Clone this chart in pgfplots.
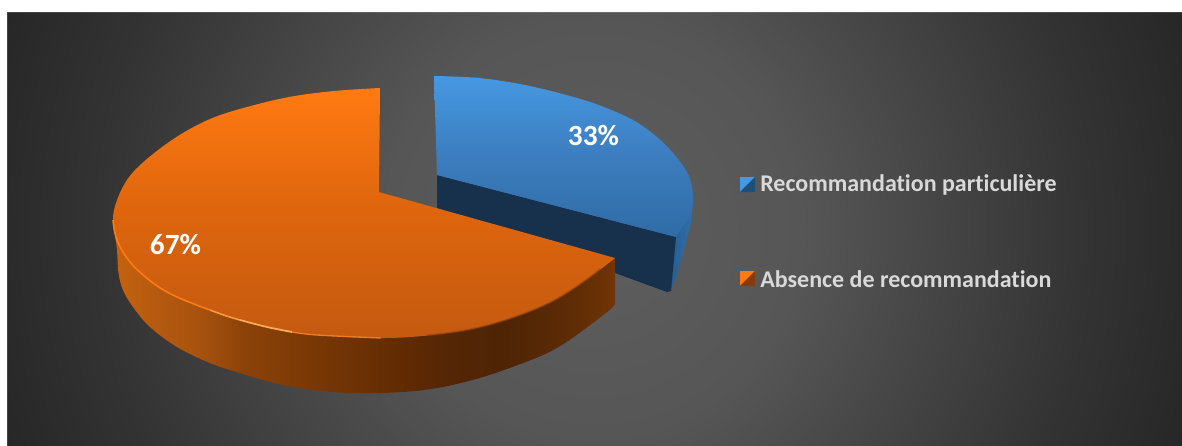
\documentclass[border=0pt]{standalone}
\usepackage{fontspec}
\setmainfont{Carlito}[Ligatures=NoCommon]
\usepackage{pgfplots}
\pgfplotsset{compat=1.18}

\definecolor{legtext}{HTML}{D9D9D9}
\definecolor{cutface}{HTML}{17304B}
\definecolor{blueL}{HTML}{4698E2}
\definecolor{blueD}{HTML}{1F4E79}
\definecolor{orangeL}{HTML}{FF7A12}
\definecolor{orangeD}{HTML}{843C0C}
\definecolor{bg0}{HTML}{5E5E5E}
\definecolor{bg1}{HTML}{565656}
\definecolor{bg2}{HTML}{333333}
\definecolor{bg3}{HTML}{272727}
\definecolor{ot0}{HTML}{C45A10}
\definecolor{ot1}{HTML}{E0660D}
\definecolor{os0}{HTML}{C46210}
\definecolor{os1}{HTML}{A5510E}
\definecolor{os2}{HTML}{8C4208}
\definecolor{os3}{HTML}{632C03}
\definecolor{os4}{HTML}{552605}
\definecolor{os5}{HTML}{4E2405}
\definecolor{os6}{HTML}{5F2C05}
\definecolor{os7}{HTML}{713506}
\definecolor{bt0}{HTML}{2F6CA6}
\definecolor{bt1}{HTML}{3C7DBE}
\definecolor{bs0}{HTML}{245482}
\definecolor{bs1}{HTML}{3070AC}
\definecolor{rim1}{HTML}{F59A40}
\definecolor{rim2}{HTML}{FFAA5A}
\definecolor{rim3}{HTML}{EC7C28}

% the middle 25bp..75bp of a shading is what covers the path's box
\pgfdeclareradialshading{backdrop}{\pgfpoint{0bp}{0bp}}{%
  color(0bp)=(bg0); color(8bp)=(bg1); color(19bp)=(bg2); color(24bp)=(bg3); color(50bp)=(bg3)}
\pgfdeclareverticalshading{orangetop}{100bp}{%
  color(0bp)=(ot0); color(25bp)=(ot0); color(52bp)=(ot1); color(75bp)=(orangeL); color(100bp)=(orangeL)}
\pgfdeclarehorizontalshading{orangeside}{100bp}{%
  color(0bp)=(os0); color(25bp)=(os0); color(34bp)=(os1); color(38bp)=(os2); color(53bp)=(os3);
  color(58bp)=(os4); color(64bp)=(os5); color(71bp)=(os6); color(75bp)=(os7); color(100bp)=(os7)}
\pgfdeclareverticalshading{bluetop}{100bp}{%
  color(0bp)=(bt0); color(25bp)=(bt0); color(50bp)=(bt1); color(75bp)=(blueL); color(100bp)=(blueL)}
\pgfdeclarehorizontalshading{blueside}{100bp}{%
  color(0bp)=(bs0); color(25bp)=(bs0); color(75bp)=(bs1); color(100bp)=(bs1)}

\begin{document}
\begin{tikzpicture}
\useasboundingbox (0,0) rectangle (886.5pt,334.5pt);
\begin{axis}[
  at={(0,0)}, anchor=south west,
  scale only axis, width=886.5pt, height=334.5pt,
  xmin=0, xmax=1182, ymin=0, ymax=446, y dir=reverse,
  hide axis, smooth, tension=0.6,
]
% backdrop, a circular gradient on a large square cut by the axis
\addplot[sharp plot, draw=none, shading=backdrop] coordinates {(-56,-421) (1244,-421) (1244,879) (-56,879) (-56,-421)};
\addplot[sharp plot, draw=none, fill=white] coordinates {(0,0) (1182,0) (1182,12) (0,12) (0,0)};
\addplot[sharp plot, draw=none, fill=white] coordinates {(0,0) (7,0) (7,446) (0,446) (0,0)};

% blue slice
\addplot[draw=none, shading=blueside] coordinates {(692.5,200) (692,213) (690,227) (683,253) (675,280) (669,292)}
  -- (axis cs:660,250) -- (axis cs:660,200) -- cycle;
\addplot[sharp plot, draw=none, fill=cutface] coordinates {(437,175) (676,237) (671,291) (667,292) (437,208) (437,175)};
\addplot[draw=none, shading=bluetop] coordinates {
  (434,76) (479,78) (525,85) (570,96) (600,105.5) (633,120) (657,137) (673,153) (687,172)
  (692.5,190) (692,210) (685,223) (676,237)}
  -- (axis cs:437,175) -- cycle;

% orange slice
\addplot[draw=none, shading=orangeside] coordinates {
  (113.5,222) (115,235) (117,250) (118.5,273) (123,290) (133,307) (150,327) (177,347) (210,363) (240,373) (283,385)
  (333,392) (381,393) (427.6,389.5) (472.7,380) (515,366) (553.3,350) (586.3,328) (612,308)}
  -- (axis cs:615,304) -- (axis cs:615,258) -- (axis cs:400,250) -- cycle;
\addplot[draw=none, shading=orangetop] coordinates {
  (380,88) (334,91) (289,97) (247,107) (215,117) (188,130) (162,147) (138,167) (125,183) (116,203)
  (113,220) (117,240) (130,262) (153,283) (177,297) (210,310) (240,320) (267,327) (317,335)
  (381,338) (427.6,335.5) (472.7,329) (515,317) (553.3,301) (586.3,280) (615,258)}
  -- (axis cs:379,192) -- cycle;
% rim light and edge shadow
\addplot[line width=1.2pt, color=orangeL] coordinates {(113,220) (117,240) (130,262) (153,283) (177,297) (210,310)};
\addplot[line width=1.2pt, color=rim1] coordinates {(210,310) (225,315.5) (240,320)};
\addplot[line width=1.3pt, color=rim2] coordinates {(240,320) (267,327) (292,332)};
\addplot[line width=1pt, color=rim3] coordinates {(292,332) (317,335) (381,338)};
\addplot[line width=1.4pt, color=orangeD, opacity=0.5] coordinates {(427.6,335.5) (472.7,329) (515,317) (553.3,301) (586.3,280) (600.5,269)};

% legend
\addplot[sharp plot, draw=none, fill=blueL] coordinates {(740,177) (755,177) (740,192) (740,177)};
\addplot[sharp plot, draw=none, fill=blueD] coordinates {(755,177) (755,192) (740,192) (755,177)};
\addplot[sharp plot, draw=none, fill=orangeL] coordinates {(740,271) (755,271) (740,286) (740,271)};
\addplot[sharp plot, draw=none, fill=orangeD] coordinates {(755,271) (755,286) (740,286) (755,271)};
\node[anchor=west, inner sep=0pt, text=legtext, font=\fontsize{18pt}{21pt}\selectfont\bfseries] at (axis cs:760,185) {Recommandation particulière};
\node[anchor=west, inner sep=0pt, text=legtext, font=\fontsize{18pt}{21pt}\selectfont\bfseries] at (axis cs:760,279) {Absence de recommandation};

% percentages
\node[text=white, inner sep=0pt, font=\fontsize{22pt}{26pt}\selectfont\bfseries] at (axis cs:593.5,136) {33\%};
\node[text=white, inner sep=0pt, font=\fontsize{22pt}{26pt}\selectfont\bfseries] at (axis cs:175.5,245) {67\%};
\end{axis}
\end{tikzpicture}
\end{document}
